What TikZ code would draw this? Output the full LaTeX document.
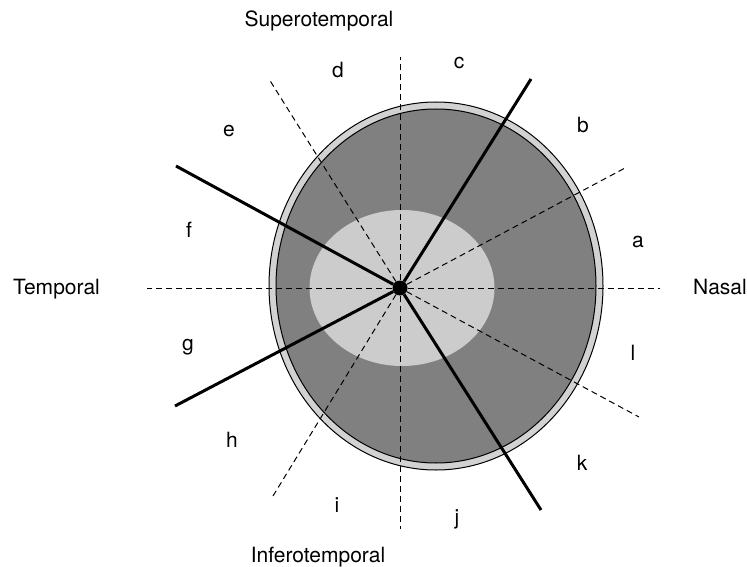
\documentclass[tikz,border=0pt]{standalone}
\usepackage{fontspec}
\setmainfont{TeX Gyre Heros}
\usetikzlibrary{shapes.geometric}
\definecolor{ringgray}{HTML}{D2D2D2}
\definecolor{fundusgray}{HTML}{808080}
\definecolor{maculagray}{HTML}{CCCCCC}
\tikzstyle{lbl} = [font=\fontsize{21}{25}\selectfont, inner sep=0pt, anchor=base]
\tikzstyle{rim} = [ellipse, inner sep=0pt, line width=1pt, draw=black]
\tikzstyle{hub} = [circle, fill=black, minimum size=15pt, inner sep=0pt]
\tikzstyle{dashline} = [line width=1pt, dash pattern=on 6pt off 4pt]
\tikzstyle{cutline} = [line width=3pt]

\begin{document}
\begin{tikzpicture}[x=1pt, y=-1pt]
\useasboundingbox (0,0) rectangle (747,567);

\node (outer) [rim, fill=ringgray, minimum width=334pt, minimum height=368pt] at (436,286) {};
\node (fundus) [rim, fill=fundusgray, minimum width=320pt, minimum height=354pt] at (436,286) {};
\node (macula) [ellipse, inner sep=0pt, fill=maculagray, minimum width=185pt, minimum height=156pt] at (402,288) {};
\node (hub) [hub] at (400,288) {};

\coordinate (east) at (660,288);
\coordinate (north) at (400,57);
\coordinate (west) at (147,288);
\coordinate (south) at (400,529);
\coordinate (ab) at (625,168);
\coordinate (de) at (269,79);
\coordinate (hi) at (273,496);
\coordinate (kl) at (639,417);

\coordinate (bc) at (531,79);
\coordinate (ef) at (176,166);
\coordinate (gh) at (175,406);
\coordinate (jk) at (541,510);

\draw[dashline] (hub) -- (east);
\draw[dashline] (hub) -- (north);
\draw[dashline] (hub) -- (west);
\draw[dashline] (hub) -- (south);
\draw[dashline] (hub) -- (ab);
\draw[dashline] (hub) -- (de);
\draw[dashline] (hub) -- (hi);
\draw[dashline] (hub) -- (kl);

\draw[cutline] (hub) -- (bc);
\draw[cutline] (hub) -- (ef);
\draw[cutline] (hub) -- (gh);
\draw[cutline] (hub) -- (jk);

\node (sup) [lbl] at (319,27) {Superotemporal};
\node (inf) [lbl] at (318,562) {Inferotemporal};
\node (tmp) [lbl, anchor=base west] at (13,294) {Temporal};
\node (nas) [lbl, anchor=base east] at (747,294) {Nasal};

\node (a) [lbl] at (638,247) {a};
\node (b) [lbl] at (583,133) {b};
\node (c) [lbl] at (459,69) {c};
\node (d) [lbl] at (338,78) {d};
\node (e) [lbl] at (229,137) {e};
\node (f) [lbl] at (189,237) {f};
\node (g) [lbl] at (188,350) {g};
\node (h) [lbl] at (232,447) {h};
\node (i) [lbl] at (337,512) {i};
\node (j) [lbl] at (457,524) {j};
\node (k) [lbl] at (582,470) {k};
\node (l) [lbl] at (633,360) {l};
\end{tikzpicture}
\end{document}
